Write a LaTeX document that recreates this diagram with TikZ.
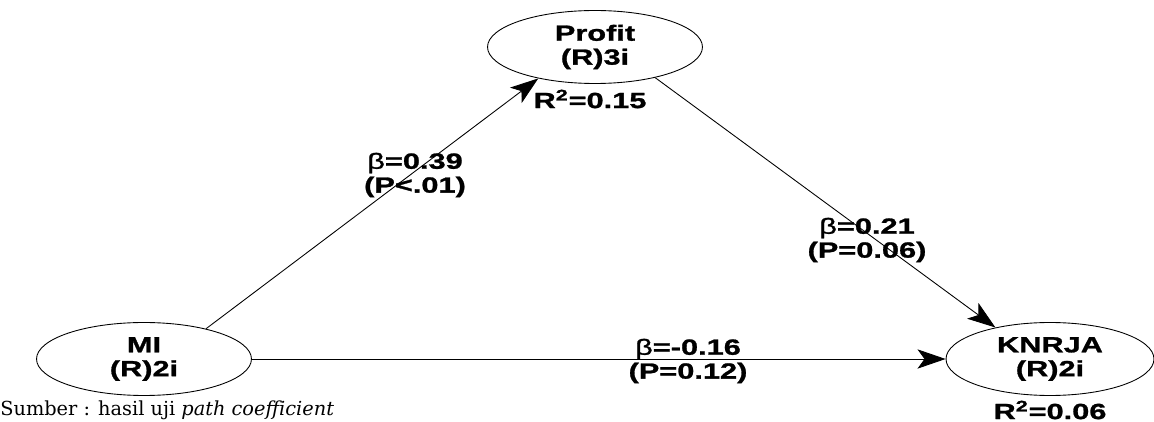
\documentclass[tikz,border=0pt]{standalone}
\usepackage{fontspec}
\setmainfont{Liberation Sans}
\newfontfamily\lblfont{Liberation Sans}[FakeStretch=1.4, FakeBold=1.2]
\newfontfamily\srcfont{DejaVu Serif}
\usetikzlibrary{shapes.geometric}
\usetikzlibrary{arrows.meta}

\begin{document}
\begin{tikzpicture} [x=0.02cm, y=-0.02cm,
        var/.style={draw, ellipse, line width=0.5pt, inner sep=0pt, minimum width=4.3cm, minimum height=1.46cm, align=center, font=\lblfont\fontsize{12.5}{13.6}\selectfont\bfseries},
        lbl/.style={align=center, inner sep=1pt, font=\lblfont\fontsize{12.5}{13.6}\selectfont\bfseries}]
            \useasboundingbox (0,0) rectangle (1154,422);

            \node[var] (profit) at (595,47)   {Profit\\(R)3i};
            \node[var] (mi)     at (144,359)  {MI\\(R)2i};
            \node[var, minimum width=4.16cm] (knrja) at (1050,359) {KNRJA\\(R)2i};

            \node[lbl] (r2profit) at (590,99)  {R\textsuperscript{2}=0.15};
            \node[lbl] (r2knrja)  at (1050,410) {R\textsuperscript{2}=0.06};

            \node[lbl] (b1) at (415,175) {{\mdseries β}=0.39\\(P<.01)};
            \node[lbl] (b2) at (867,240) {{\mdseries β}=0.21\\(P=0.06)};
            \node[lbl] (b3) at (688,361) {{\mdseries β}=-0.16\\(P=0.12)};

            \node[anchor=west, inner sep=0pt, font=\srcfont\fontsize{11}{13}\selectfont] (src) at (0,410) {Sumber : hasil uji \textit{path coefficient}};

            \begin{scope}[->, >={Stealth[length=16pt, width=11pt, inset=4pt]}, line width=0.5pt]
                \draw (mi.26.6) -- (profit.209.8);
                \draw (profit.333.4) -- (knrja.150.4);
                \draw (mi.east) -- (knrja.west);
            \end{scope}
        \end{tikzpicture}
\end{document}
